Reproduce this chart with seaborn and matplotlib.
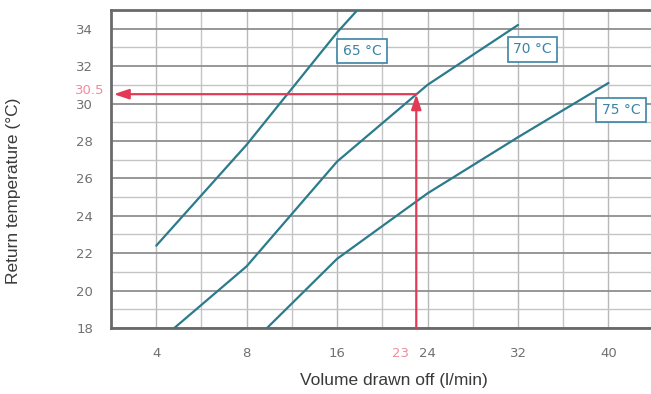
import numpy as np
import pandas as pd
import matplotlib
matplotlib.use("Agg")
import matplotlib.pyplot as plt
import matplotlib.transforms as mtrans
from matplotlib.ticker import FixedLocator, MultipleLocator
import seaborn as sns

# ---- data ----
x_ticks = [4, 8, 16, 24, 32, 40]
x_minor = [6, 12, 20, 28, 36]
y_ticks = [18, 20, 22, 24, 26, 28, 30, 32, 34]

x_65 = [4, 8, 16, 17.8]
y_65 = [22.4, 27.8, 33.8, 35.0]
x_70 = [4.8, 8, 16, 24, 32]
y_70 = [18.0, 21.3, 26.9, 31.0, 34.2]
x_75 = [9.8, 16, 24, 32, 40]
y_75 = [18.0, 21.7, 25.2, 28.2, 31.1]
series_names = ["65 °C", "70 °C", "75 °C"]
label_x = [18.2, 33.3, 41.1]
label_y = [32.8, 32.9, 29.65]

x_read = 23
y_read = 30.5

# ---- piecewise-linear x axis (equal spacing between tick values) ----
xt = np.array(x_ticks, float)
pos = np.arange(len(xt), dtype=float)


def fwd(x):
    x = np.asarray(x, float)
    out = np.interp(x, xt, pos)
    lo = x < xt[0]
    hi = x > xt[-1]
    out = np.where(lo, (x - xt[0]) / (xt[1] - xt[0]), out)
    out = np.where(hi, pos[-1] + (x - xt[-1]) / (xt[-1] - xt[-2]), out)
    return out


def inv(p):
    p = np.asarray(p, float)
    out = np.interp(p, pos, xt)
    lo = p < pos[0]
    hi = p > pos[-1]
    out = np.where(lo, xt[0] + (p - pos[0]) * (xt[1] - xt[0]), out)
    out = np.where(hi, xt[-1] + (p - pos[-1]) * (xt[-1] - xt[-2]), out)
    return out


df = pd.concat([
    pd.DataFrame({"x": x_65, "y": y_65, "s": series_names[0]}),
    pd.DataFrame({"x": x_70, "y": y_70, "s": series_names[1]}),
    pd.DataFrame({"x": x_75, "y": y_75, "s": series_names[2]}),
])

sns.set_style("white")
plt.rcParams["font.family"] = ["DejaVu Sans"]

line_col = "#2b7b8c"
lab_col = "#3b84a6"
red = "#e23a55"
pink = "#f08ca0"

fig = plt.figure(figsize=(6.51, 3.94), dpi=100)
ax = fig.add_axes([111 / 651, 66 / 394, 540 / 651, 318 / 394])
ax.set_xscale("function", functions=(fwd, inv))

sns.lineplot(data=df, x="x", y="y", hue="s", units="s", estimator=None,
             palette=[line_col] * 3, linewidth=1.6, legend=False, sort=False,
             ax=ax, zorder=4)

ax.set_xlim(inv(-0.5), inv(5.47))
ax.set_ylim(18, 35)

ax.xaxis.set_major_locator(FixedLocator(x_ticks))
ax.xaxis.set_minor_locator(FixedLocator(x_minor))
ax.set_xticklabels([str(v) for v in x_ticks])
ax.yaxis.set_major_locator(FixedLocator(y_ticks))
ax.yaxis.set_minor_locator(MultipleLocator(1))

ax.grid(which="major", axis="x", color="#b8b8b8", linewidth=1.0)
ax.grid(which="minor", axis="x", color="#c4c4c4", linewidth=1.0)
ax.grid(which="major", axis="y", color="#8f8f8f", linewidth=1.3)
ax.grid(which="minor", axis="y", color="#c4c4c4", linewidth=1.0)
ax.set_axisbelow(True)

ax.tick_params(axis="both", which="both", length=0)
ax.tick_params(axis="x", pad=14, labelsize=9.5, labelcolor="#707070")
ax.tick_params(axis="y", pad=13, labelsize=9.5, labelcolor="#707070")

for side in ["left", "bottom", "top"]:
    ax.spines[side].set_color("#6a6a6a")
    ax.spines[side].set_linewidth(2.0)
ax.spines["right"].set_visible(False)

# curve labels in boxes
for name, lx, ly in zip(series_names, label_x, label_y):
    ax.text(lx, ly, name, ha="center", va="center", fontsize=10, color=lab_col,
            fontweight="medium", zorder=6,
            bbox=dict(boxstyle="square,pad=0.38", fc="white", ec=lab_col, lw=1.2))

# red reading arrows
ax.annotate("", xy=(inv(-0.47), y_read), xytext=(x_read, y_read),
            arrowprops=dict(arrowstyle="-|>,head_length=0.9,head_width=0.3",
                            color=red, lw=1.6, shrinkA=0, shrinkB=0), zorder=5)
ax.annotate("", xy=(x_read, y_read), xytext=(x_read, 18),
            arrowprops=dict(arrowstyle="-|>,head_length=0.9,head_width=0.3",
                            color=red, lw=1.6, shrinkA=0, shrinkB=0), zorder=5)

# pink reading labels
bx = mtrans.blended_transform_factory(ax.transData, ax.transAxes)
ax.annotate(str(x_read), xy=(x_read, 0), xycoords=bx, xytext=(-5, -14),
            textcoords="offset points", ha="right", va="top",
            fontsize=9.5, color=pink, annotation_clip=False)
by = mtrans.blended_transform_factory(ax.transAxes, ax.transData)
ax.annotate(str(y_read), xy=(0, y_read), xycoords=by, xytext=(-26, 3),
            textcoords="offset points", ha="left", va="center",
            fontsize=9.5, color=pink, annotation_clip=False)

ax.set_xlabel("")
ax.set_ylabel("")
fig.text(394 / 651, 1 - 380 / 394, "Volume drawn off (l/min)", ha="center",
         va="center", fontsize=12.5, color="#3a3a3a", family="Liberation Sans")
fig.text(14 / 651, 1 - 191 / 394, "Return temperature (°C)", ha="center",
         va="center", rotation=90, fontsize=12.5, color="#3a3a3a",
         family="Liberation Sans")

fig.savefig("out.png", dpi=100)
